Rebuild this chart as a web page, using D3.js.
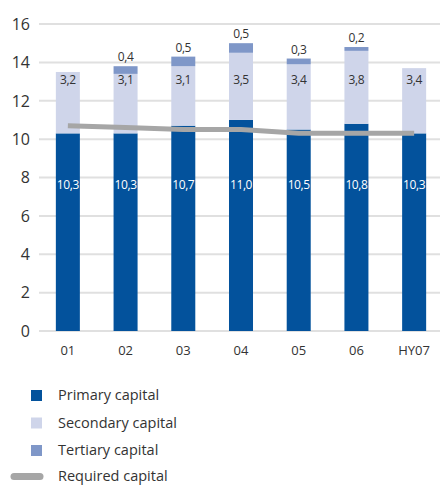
<!DOCTYPE html>
<html><head><meta charset="utf-8">
<script src="https://cdn.jsdelivr.net/npm/d3@7"></script>
<style>body{margin:0;background:#fff;} svg{display:block;font-family:"Open Sans","Noto Sans",sans-serif;}</style>
</head><body><svg id="c" width="440" height="485"></svg>
<script>
const categories = ["01","02","03","04","05","06","HY07"];
const primary   = [10.3,10.3,10.7,11.0,10.5,10.8,10.3];
const secondary = [3.2,3.1,3.1,3.5,3.4,3.8,3.4];
const tertiary  = [0,0.4,0.5,0.5,0.3,0.2,0];
const required  = [10.7,10.6,10.5,10.5,10.3,10.3,10.3];
const yTicks = [0,2,4,6,8,10,12,14,16];
const legendLabels = ["Primary capital","Secondary capital","Tertiary capital","Required capital"];
const colors = {primary:"#03529c", secondary:"#cfd5ea", tertiary:"#7f97c8", required:"#a6a6a6"};
const fmt = v => v.toFixed(1).replace(".", ",");

const svg = d3.select("#c");
const x = d3.scaleBand().domain(categories).range([39,443]).paddingInner(0.584).paddingOuter(0.292);
const y = d3.scaleLinear().domain([0,16]).range([331,24]);

// grid
svg.append("g").selectAll("line").data(yTicks).join("line")
  .attr("x1",39).attr("x2",440).attr("y1",d=>y(d)).attr("y2",d=>y(d))
  .attr("stroke","#e0e0e0").attr("stroke-width",2);
svg.append("g").selectAll("text").data(yTicks).join("text")
  .attr("x",30).attr("y",d=>y(d)).attr("dy","0.36em").attr("text-anchor","end")
  .attr("font-size",16).attr("fill","#333").text(d=>d);

// bars
const g = svg.append("g");
categories.forEach((c,i)=>{
  const bx = x(c), bw = x.bandwidth();
  const p = primary[i], s = secondary[i], t = tertiary[i];
  g.append("rect").attr("x",bx).attr("width",bw).attr("y",y(p)).attr("height",y(0)-y(p)).attr("fill",colors.primary);
  g.append("rect").attr("x",bx).attr("width",bw).attr("y",y(p+s)).attr("height",y(p)-y(p+s)).attr("fill",colors.secondary);
  if (t>0) g.append("rect").attr("x",bx).attr("width",bw).attr("y",y(p+s+t)).attr("height",y(p+s)-y(p+s+t)).attr("fill",colors.tertiary);
});

// required line
const line = d3.line().x((d,i)=>x(categories[i])+x.bandwidth()/2).y(d=>y(d));
svg.append("path").datum(required).attr("d",line).attr("fill","none")
  .attr("stroke",colors.required).attr("stroke-width",5);

// labels
const lab = svg.append("g").attr("font-size",12).attr("text-anchor","middle").attr("letter-spacing","-0.4");
categories.forEach((c,i)=>{
  const cx = x(c)+x.bandwidth()/2;
  lab.append("text").attr("x",cx).attr("y",y(7.6)).attr("dy","0.36em").attr("fill","#fff").text(fmt(primary[i]));
  lab.append("text").attr("x",cx).attr("y",y(13.1)).attr("dy","0.36em").attr("fill","#333").text(fmt(secondary[i]));
  if (tertiary[i]>0) lab.append("text").attr("x",cx).attr("y",y(primary[i]+secondary[i]+tertiary[i])-5).attr("fill","#333").text(fmt(tertiary[i]));
});

// x axis labels
svg.append("g").selectAll("text").data(categories).join("text")
  .attr("x",d=>x(d)+x.bandwidth()/2).attr("y",350).attr("dy","0.36em")
  .attr("text-anchor","middle").attr("font-size",13).attr("fill","#333").text(d=>d);

// legend
const leg = svg.append("g");
const ly = [395.5,423,450.5,476.5];
[colors.primary,colors.secondary,colors.tertiary].forEach((col,i)=>{
  leg.append("rect").attr("x",31).attr("y",ly[i]-5.5).attr("width",11).attr("height",11).attr("fill",col);
});
leg.append("line").attr("x1",14).attr("x2",40).attr("y1",ly[3]).attr("y2",ly[3])
  .attr("stroke",colors.required).attr("stroke-width",7).attr("stroke-linecap","round");
legendLabels.forEach((t,i)=>{
  leg.append("text").attr("x",58).attr("y",ly[i]).attr("dy","0.34em").attr("font-size",14.5).attr("fill","#333").text(t);
});
</script></body></html>
